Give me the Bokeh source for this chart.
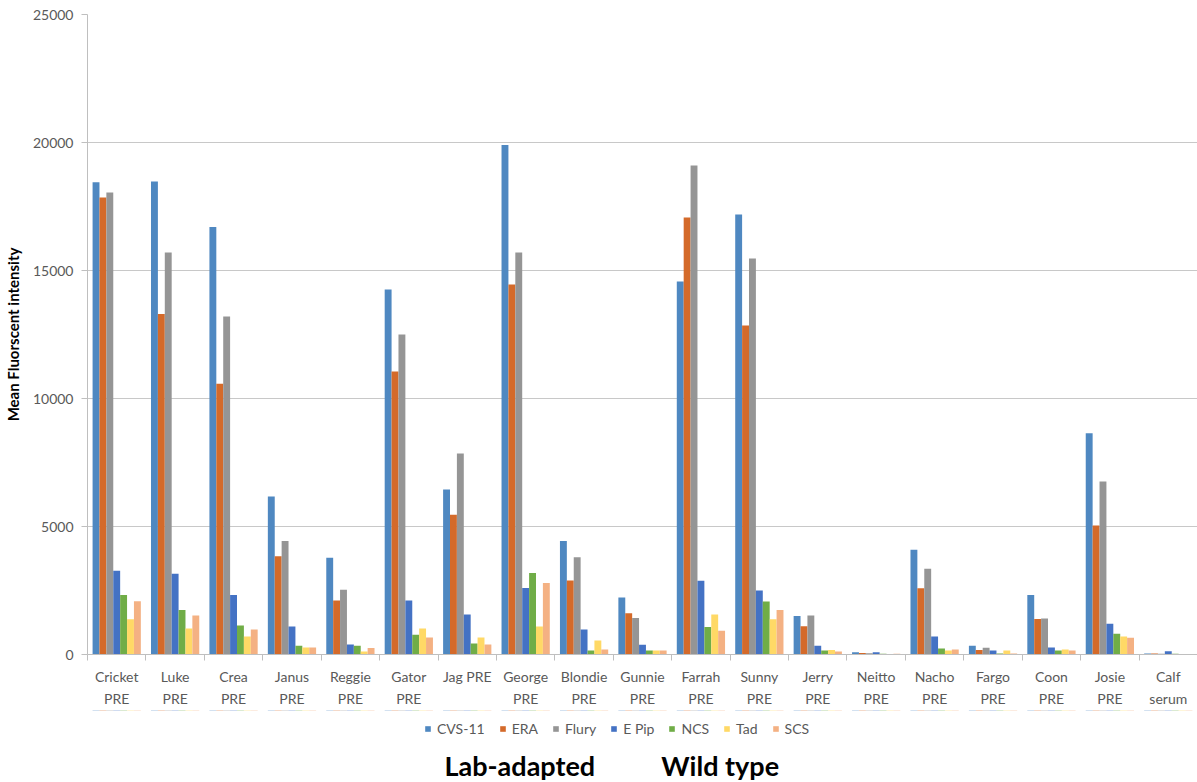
import numpy as np
from bokeh.plotting import figure
from bokeh.layouts import column
from bokeh.models import (ColumnDataSource, Range1d, FixedTicker, LinearAxis, Legend,
                          LegendItem, Label, Grid)
from bokeh.transform import dodge
from bokeh.embed import file_html
from bokeh.resources import INLINE

# ---------------- data ----------------
line1 = ["Cricket", "Luke", "Crea", "Janus", "Reggie", "Gator", "Jag PRE", "George",
         "Blondie", "Gunnie", "Farrah", "Sunny", "Jerry", "Neitto", "Nacho", "Fargo",
         "Coon", "Josie", "Calf"]
line2 = ["PRE", "PRE", "PRE", "PRE", "PRE", "PRE", "", "PRE", "PRE", "PRE", "PRE", "PRE",
         "PRE", "PRE", "PRE", "PRE", "PRE", "PRE", "serum"]

series_names = ["CVS-11", "ERA", "Flury", "E Pip", "NCS", "Tad", "SCS"]
cvs11 = [18450, 18480, 16700, 6170, 3780, 14260, 6450, 19900, 4430, 2230, 14570, 17190, 1500, 90, 4090, 340, 2320, 8640, 40]
era   = [17850, 13300, 10580, 3840, 2110, 11050, 5460, 14450, 2890, 1610, 17070, 12850, 1100, 60, 2590, 180, 1390, 5040, 40]
flury = [18050, 15700, 13200, 4430, 2530, 12500, 7850, 15700, 3800, 1430, 19100, 15470, 1520, 50, 3350, 260, 1410, 6760, 30]
epip  = [3270, 3150, 2320, 1090, 390, 2110, 1560, 2600, 980, 380, 2880, 2500, 340, 90, 700, 160, 270, 1200, 130]
ncs   = [2320, 1740, 1130, 340, 340, 770, 430, 3180, 160, 160, 1070, 2070, 160, 30, 230, 40, 160, 810, 30]
tad   = [1380, 1020, 700, 270, 120, 1020, 660, 1090, 550, 160, 1560, 1380, 180, 20, 160, 160, 200, 700, 20]
scs   = [2080, 1520, 980, 270, 250, 660, 390, 2790, 200, 160, 930, 1740, 120, 30, 200, 40, 160, 650, 20]
series_values = [cvs11, era, flury, epip, ncs, tad, scs]
colors = ["#4F88C1", "#D46A2A", "#959595", "#4472C4", "#70AD47", "#FFD966", "#F4B183"]
group_labels = ["Lab-adapted", "Wild type"]

n = len(line1)
centers = np.arange(n) + 0.5
src = ColumnDataSource(dict(x=centers, **{f"s{i}": v for i, v in enumerate(series_values)}))

FONT = "Lato"
GREY_TXT = "#595959"

xr = Range1d(0, n)
p = figure(width=1197, height=710, output_backend="svg", toolbar_location=None,
           x_range=xr, y_range=Range1d(0, 25000),
           min_border_left=86, min_border_right=0, min_border_top=14, min_border_bottom=56,
           x_axis_type=None, y_axis_type=None, outline_line_color=None,
           background_fill_color="white", border_fill_color="white")

bw = 0.118
for i, name in enumerate(series_names):
    p.vbar(x=dodge("x", (i - 3) * bw), top=f"s{i}", width=bw, bottom=0,
           source=src, fill_color=colors[i], line_color=None)

# y axis
yaxis = LinearAxis(ticker=FixedTicker(ticks=[0, 5000, 10000, 15000, 20000, 25000]),
                   axis_label="Mean Fluorscent intensity")
yaxis.axis_line_color = "#BFBFBF"
yaxis.major_tick_line_color = "#BFBFBF"
yaxis.major_tick_out = 6
yaxis.major_tick_in = 0
yaxis.minor_tick_line_color = None
yaxis.major_label_text_font = FONT
yaxis.major_label_text_font_size = "14px"
yaxis.major_label_text_color = GREY_TXT
yaxis.major_label_standoff = 8
yaxis.axis_label_text_font = FONT
yaxis.axis_label_text_font_size = "15px"
yaxis.axis_label_text_font_style = "bold"
yaxis.axis_label_text_color = "black"
yaxis.axis_label_standoff = 8
p.add_layout(yaxis, "left")

p.add_layout(Grid(dimension=1, ticker=yaxis.ticker, grid_line_color="#C8C8C8", grid_line_width=1))

# x axis, first line of labels with boundary ticks
xaxis = LinearAxis(ticker=FixedTicker(ticks=list(centers), minor_ticks=list(range(n + 1))),
                   major_label_overrides={float(c): l for c, l in zip(centers, line1)})
xaxis.axis_line_color = "#BFBFBF"
xaxis.major_tick_line_color = None
xaxis.major_tick_out = 0
xaxis.major_tick_in = 0
xaxis.minor_tick_line_color = "#BFBFBF"
xaxis.minor_tick_out = 6
xaxis.minor_tick_in = 0
xaxis.major_label_text_font = FONT
xaxis.major_label_text_font_size = "14px"
xaxis.major_label_text_color = GREY_TXT
xaxis.major_label_standoff = 7
p.add_layout(xaxis, "below")

# second line of labels
xaxis2 = LinearAxis(ticker=FixedTicker(ticks=list(centers)),
                    major_label_overrides={float(c): (l if l else " ") for c, l in zip(centers, line2)})
xaxis2.axis_line_color = None
xaxis2.major_tick_line_color = None
xaxis2.minor_tick_line_color = None
xaxis2.major_tick_out = 0
xaxis2.major_tick_in = 0
xaxis2.major_label_text_font = FONT
xaxis2.major_label_text_font_size = "14px"
xaxis2.major_label_text_color = GREY_TXT
xaxis2.major_label_standoff = 2
p.add_layout(xaxis2, "below")

# ---- lower strip: legend and group labels ----
# same bars, mapped far outside this strip's y window so only their legend swatches show
p2 = figure(width=1197, height=72, output_backend="svg", toolbar_location=None,
            x_range=xr, y_range=Range1d(-1e9, -9e8),
            min_border_left=86, min_border_right=0, min_border_top=0, min_border_bottom=0,
            x_axis_type=None, y_axis_type=None, outline_line_color=None,
            background_fill_color="white", border_fill_color="white")
p2.xgrid.visible = False
p2.ygrid.visible = False
leg_renderers = [p2.vbar(x=dodge("x", (i - 3) * bw), top=f"s{i}", width=bw, bottom=0,
                         source=src, fill_color=c, line_color=None)
                 for i, c in enumerate(colors)]
legend = Legend(items=[LegendItem(label=nm, renderers=[r]) for nm, r in zip(series_names, leg_renderers)],
                orientation="horizontal", location=(337, 45),
                padding=0, margin=0, spacing=14, label_standoff=6,
                glyph_width=7, glyph_height=7, label_height=14,
                label_text_font=FONT, label_text_font_size="14px", label_text_color=GREY_TXT,
                border_line_color=None, background_fill_alpha=0)
p2.add_layout(legend, "center")

for txt, xc in zip(group_labels, [7.40, 10.83]):
    p2.add_layout(Label(x=xc, y=17, x_units="data", y_units="screen", text=txt,
                        text_align="center", text_baseline="middle",
                        text_font=FONT, text_font_size="27px", text_font_style="bold",
                        text_color="black"))

layout = column(p, p2, spacing=0)
open("out.html", "w").write(file_html(layout, INLINE))
